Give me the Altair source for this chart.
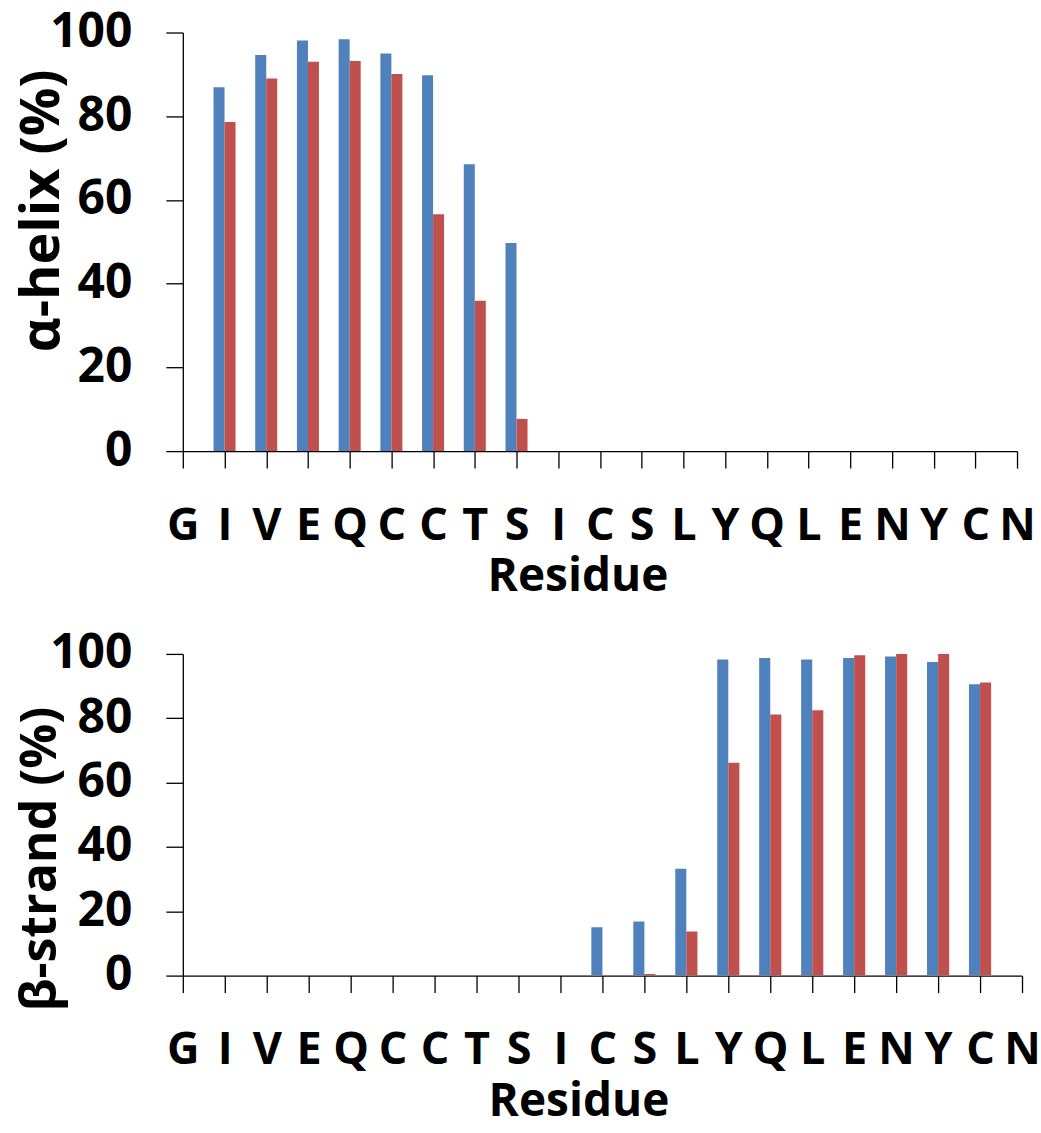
import json
import altair as alt
import pandas as pd

residues = ["G", "I", "V", "E", "Q", "C", "C", "T", "S", "I", "C",
            "S", "L", "Y", "Q", "L", "E", "N", "Y", "C", "N"]

helix_set1 = [0, 86.9, 94.6, 98.1, 98.4, 95.0, 89.8, 68.5, 49.7, 0, 0,
              0, 0, 0, 0, 0, 0, 0, 0, 0, 0]
helix_set2 = [0, 78.6, 89.0, 93.0, 93.2, 90.1, 56.6, 35.9, 7.7, 0, 0,
              0, 0, 0, 0, 0, 0, 0, 0, 0, 0]

strand_set1 = [0, 0, 0, 0, 0, 0, 0, 0, 0, 0, 15.0,
               16.8, 33.2, 98.3, 98.7, 98.3, 98.7, 99.2, 97.5, 90.6, 0]
strand_set2 = [0, 0, 0, 0, 0, 0, 0, 0, 0, 0, 0,
               0.5, 13.7, 66.2, 81.2, 82.5, 99.6, 100, 100, 91.1, 0]

y_ticks = [0, 20, 40, 60, 80, 100]

BLUE = "#4F81BD"
RED = "#C0504D"
FONT = "Open Sans"
HALF = 0.264  # bar width in category units


def frame(v1, v2):
    rows = []
    for i, r in enumerate(residues):
        rows.append({"idx": i, "residue": r, "series": "Set 1", "value": v1[i]})
        rows.append({"idx": i, "residue": r, "series": "Set 2", "value": v2[i]})
    return pd.DataFrame(rows)


label_expr = json.dumps(residues) + "[datum.value]"


def panel(df, ytitle, w, h, ytitle_size, ytitle_y, xtitle_x):
    x_axis = alt.Axis(
        values=list(range(len(residues))), labelExpr=label_expr, grid=False,
        tickSize=17, tickWidth=1.3, tickColor="black",
        domainColor="black", domainWidth=1.3,
        labelFont=FONT, labelFontWeight="bold", labelFontSize=45,
        labelColor="black", labelPadding=35, labelOverlap=False,
        labelFlush=False, labelBound=False,
        title="Residue", titleFont=FONT, titleFontWeight="bold",
        titleFontSize=46, titleColor="black",
        titleX=xtitle_x, titleY=140, titleBaseline="alphabetic",
        titleAlign="center",
    )
    y_axis = alt.Axis(
        values=y_ticks, format="d", grid=False,
        tickSize=17, tickWidth=1.3, tickColor="black",
        domainColor="black", domainWidth=1.3,
        labelFont=FONT, labelFontWeight="bold", labelFontSize=48,
        labelColor="black", labelPadding=34, labelFlush=False,
        title=ytitle, titleFont=FONT, titleFontWeight="bold",
        titleFontSize=ytitle_size, titleColor="black",
        titleAngle=270, titleX=-167, titleY=ytitle_y,
        titleBaseline="top", titleAlign="center",
    )
    return alt.Chart(df).transform_calculate(
        x0=f"datum.idx + (datum.series == 'Set 1' ? -{HALF} : 0)",
        x1=f"datum.idx + (datum.series == 'Set 1' ? 0 : {HALF})",
    ).mark_bar(clip=True).encode(
        x=alt.X("x0:Q", scale=alt.Scale(domain=[0, 20], nice=False, zero=False),
                axis=x_axis),
        x2="x1:Q",
        y=alt.Y("value:Q", scale=alt.Scale(domain=[0, 100], nice=False),
                axis=y_axis),
        y2=alt.datum(0),
        color=alt.Color("series:N",
                        scale=alt.Scale(domain=["Set 1", "Set 2"], range=[BLUE, RED]),
                        legend=None),
    ).properties(width=w, height=h)


top = panel(frame(helix_set1, helix_set2), "α-helix (%)", 835, 419, 54, 178, 395)
bottom = panel(frame(strand_set1, strand_set2), "β-strand (%)", 840, 322, 50, 205, 396)

chart = alt.vconcat(top, bottom, spacing=30).properties(
    padding={"left": 16, "top": 8, "right": 0, "bottom": 4},
    background="white",
).configure_view(stroke=None)

chart.save("out.html", embed_options={"renderer": "svg", "actions": False})
